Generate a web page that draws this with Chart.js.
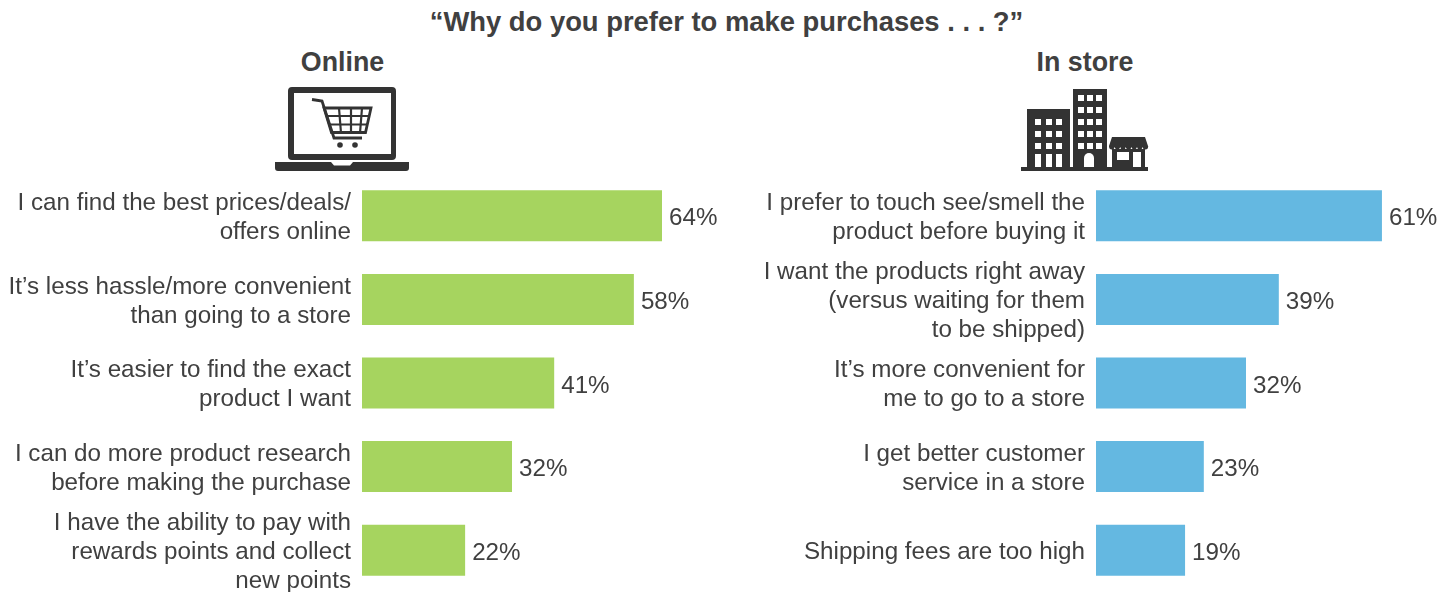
<!DOCTYPE html>
<html>
<head>
<meta charset="utf-8">
<title>Why do you prefer to make purchases</title>
<script src="https://cdn.jsdelivr.net/npm/chart.js@4"></script>
<style>
  html, body { margin: 0; padding: 0; background: #fff; }
  body { position: relative; width: 1450px; height: 592px; overflow: hidden; font-family: "Liberation Sans", Arial, sans-serif; color: #404040; }
  .head { position: absolute; font-weight: bold; white-space: nowrap; transform: translateX(-50%); }
  #title { left: 726.500px; top: 7px; font-size: 27.400px; line-height: 30px; }
  #headOnline { left: 342.500px; top: 47px; font-size: 26.800px; line-height: 30px; }
  #headStore { left: 1085px; top: 47px; font-size: 26.800px; line-height: 30px; }
  #icons { position: absolute; left: 0; top: 0; }
  .wrap { position: absolute; top: 174px; width: 737px; height: 418px; }
  #wrapOnline { left: 0; }
  #wrapStore { left: 734px; }
</style>
</head>
<body>
<div id="title" class="head">“Why do you prefer to make purchases . . . ?”</div>
<div id="headOnline" class="head">Online</div>
<div id="headStore" class="head">In store</div>

<svg id="icons" width="1450" height="180" xmlns="http://www.w3.org/2000/svg">
  <!-- laptop + cart -->
  <g fill="#333333">
    <path fill-rule="evenodd" d="M292 87H392a4 4 0 0 1 4 4V156a4 4 0 0 1-4 4H292a4 4 0 0 1-4-4V91a4 4 0 0 1 4-4ZM294 93V154H391V93Z"/>
    <path d="M275 162H331L334 165.500H350L353 162H409V168a3 3 0 0 1-3 3H278a3 3 0 0 1-3-3Z"/>
    <circle cx="340" cy="145" r="2.800"/>
    <circle cx="355" cy="145" r="2.800"/>
  </g>
  <g fill="none" stroke="#333333">
    <path stroke-width="2.800" d="M312 99.500L322 101L334 138H362"/>
    <path stroke-width="2.800" d="M324 108H371L365.500 132.500H331.500Z"/>
    <path stroke-width="2.200" d="M326 116H369M328.500 124.500H367.500M339 108L341 133M351 108V133M362 108L360 133"/>
  </g>
  <!-- buildings + shop -->
  <g fill="#333333">
    <rect x="1021" y="167" width="127" height="4"/>
    <rect x="1027" y="109" width="43" height="58"/>
    <rect x="1073" y="89" width="34" height="78"/>
    <rect x="1112" y="149" width="33" height="18"/>
    <path d="M1112 137H1145L1148 146Q1148 147 1147 147H1110Q1109 147 1109 146Z"/>
    <path d="M1109 146a2.800 3.500 0 0 0 5.600 0a2.800 3.500 0 0 0 5.600 0a2.800 3.500 0 0 0 5.600 0a2.800 3.500 0 0 0 5.600 0a2.800 3.500 0 0 0 5.600 0a2.800 3.500 0 0 0 5.600 0a2.800 3.500 0 0 0 5.600 0Z"/>
  </g>
  <g fill="#ffffff">
    <rect x="1035" y="119" width="6" height="6"/><rect x="1046" y="119" width="6" height="6"/><rect x="1056" y="119" width="6" height="6"/>
    <rect x="1035" y="131" width="6" height="6"/><rect x="1046" y="131" width="6" height="6"/><rect x="1056" y="131" width="6" height="6"/>
    <rect x="1035" y="143" width="6" height="6"/><rect x="1046" y="143" width="6" height="6"/><rect x="1056" y="143" width="6" height="6"/>
    <rect x="1035" y="154" width="6" height="13"/><rect x="1046" y="154" width="6" height="13"/><rect x="1056" y="154" width="6" height="13"/>
    <rect x="1078" y="95" width="6" height="6"/><rect x="1087" y="95" width="6" height="6"/><rect x="1096" y="95" width="6" height="6"/>
    <rect x="1078" y="107" width="6" height="6"/><rect x="1087" y="107" width="6" height="6"/><rect x="1096" y="107" width="6" height="6"/>
    <rect x="1078" y="119" width="6" height="6"/><rect x="1087" y="119" width="6" height="6"/><rect x="1096" y="119" width="6" height="6"/>
    <rect x="1078" y="131" width="6" height="6"/><rect x="1087" y="131" width="6" height="6"/><rect x="1096" y="131" width="6" height="6"/>
    <rect x="1078" y="143" width="6" height="6"/><rect x="1087" y="143" width="6" height="6"/><rect x="1096" y="143" width="6" height="6"/>
    <path d="M1084 167V158a5 5 0 0 1 10 0V167Z"/>
    <rect x="1117" y="152" width="12" height="8"/>
    <rect x="1133" y="152" width="8" height="15"/>
  </g>
</svg>

<div id="wrapOnline" class="wrap"><canvas id="chartOnline" width="737" height="418"></canvas></div>
<div id="wrapStore" class="wrap"><canvas id="chartStore" width="737" height="418"></canvas></div>

<script>
/* ===== Data ===== */
const onlineLabels = [
  ["I can find the best prices/deals/", "offers online"],
  ["It’s less hassle/more convenient", "than going to a store"],
  ["It’s easier to find the exact", "product I want"],
  ["I can do more product research", "before making the purchase"],
  ["I have the ability to pay with", "rewards points and collect", "new points"],
];
const onlineValues = [64, 58, 41, 32, 22];

const storeLabels = [
  ["I prefer to touch see/smell the", "product before buying it"],
  ["I want the products right away", "(versus waiting for them", "to be shipped)"],
  ["It’s more convenient for", "me to go to a store"],
  ["I get better customer", "service in a store"],
  ["Shipping fees are too high"],
];
const storeValues = [61, 39, 32, 23, 19];

const TEXT_COLOR = "#404040";
const FONT_FAMILY = '"Liberation Sans", Arial, sans-serif';

/* ===== Value labels at the bar ends ===== */
const valueLabels = {
  id: "valueLabels",
  afterDatasetsDraw(chart) {
    const ctx = chart.ctx;
    const bars = chart.getDatasetMeta(0).data;
    ctx.save();
    ctx.font = `24.200px ${FONT_FAMILY}`;
    ctx.fillStyle = TEXT_COLOR;
    ctx.textAlign = "left";
    ctx.textBaseline = "middle";
    bars.forEach((bar, i) => {
      ctx.fillText(`${chart.data.datasets[0].data[i]}%`, bar.x + 7, bar.y + 3);
    });
    ctx.restore();
  },
};

/* ===== Charts ===== */
function makeChart(canvasId, labels, values, color) {
  return new Chart(document.getElementById(canvasId), {
    type: "bar",
    data: {
      labels,
      datasets: [{
        data: values,
        backgroundColor: color,
        borderWidth: 0,
        barPercentage: 0.61,
        categoryPercentage: 1,
      }],
    },
    options: {
      indexAxis: "y",
      responsive: false,
      animation: false,
      layout: { padding: 0 },
      plugins: { legend: { display: false }, tooltip: { enabled: false } },
      scales: {
        x: { display: false, min: 0, max: 80 },
        y: {
          // the tall multi-line labels must not push the plot area in
          afterFit(scale) {
            scale.width = 362;
            scale.paddingTop = 0;
            scale.paddingBottom = 0;
          },
          grid: { display: false, drawTicks: false },
          border: { display: false },
          ticks: {
            color: TEXT_COLOR,
            padding: 11,
            labelOffset: 2,
            autoSkip: false,
            font: { family: FONT_FAMILY, size: 24.2, lineHeight: 1.2 },
          },
        },
      },
    },
    plugins: [valueLabels],
  });
}

makeChart("chartOnline", onlineLabels, onlineValues, "#A6D45F");
makeChart("chartStore", storeLabels, storeValues, "#64B8E1");
</script>
</body>
</html>
